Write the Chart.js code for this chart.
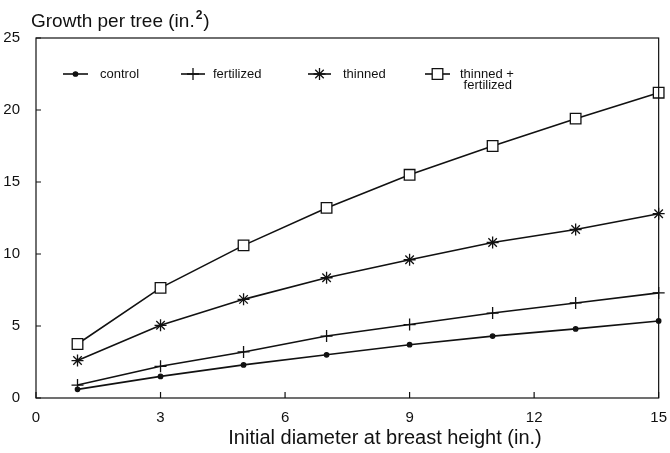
<!DOCTYPE html>
<html>
<head>
<meta charset="utf-8">
<script src="https://cdn.jsdelivr.net/npm/chart.js@4/dist/chart.umd.min.js"></script>
<style>
  body { margin: 0; background: #fff; }
  canvas { display: block; }
</style>
</head>
<body>
<canvas id="growthChart" width="670" height="453"></canvas>
<script>
// diameter classes (in.)
const diameters = [1, 3, 5, 7, 9, 11, 13, 15];
const xTicks = [0, 3, 6, 9, 12, 15];
const yTicks = [0, 5, 10, 15, 20, 25];

// growth per tree (in.^2)
const control = [0.6, 1.5, 2.3, 3.0, 3.7, 4.3, 4.8, 5.35];
const fertilized = [0.9, 2.2, 3.2, 4.3, 5.1, 5.9, 6.6, 7.3];
const thinned = [2.6, 5.05, 6.85, 8.35, 9.6, 10.8, 11.7, 12.8];
const thinnedFertilized = [3.75, 7.65, 10.6, 13.2, 15.5, 17.5, 19.4, 21.2];

const yTitle = ["Growth per tree (in.", "2", ")"];
const xTitle = "Initial diameter at breast height (in.)";
const ink = "#111";
const fontFamily = "'Liberation Sans', Arial, Helvetica, sans-serif";

function toPoints(values) {
    return values.map((v, i) => ({ x: diameters[i], y: v }));
}

function series(label, values, style, radius, fill) {
    return {
        label: label,
        data: toPoints(values),
        borderColor: ink,
        borderWidth: 1.6,
        pointStyle: style,
        pointRadius: radius,
        pointBackgroundColor: fill,
        pointBorderColor: ink,
        pointBorderWidth: 1.3,
        tension: 0,
        clip: false
    };
}

// legend spots inside the plot, as in the figure
const legendSpots = [
    { lineFrom: 63, lineTo: 88, textX: 100, lines: ["control"] },
    { lineFrom: 181, lineTo: 205, textX: 213, lines: ["fertilized"] },
    { lineFrom: 308, lineTo: 331, textX: 343, lines: ["thinned"] },
    { lineFrom: 425, lineTo: 450, textX: 460, lines: ["thinned +", " fertilized"] }
];

const framePlugin = {
    id: "frame",
    afterDraw(chart) {
        const ctx = chart.ctx;
        const a = chart.chartArea;
        const xs = chart.scales.x;
        const ys = chart.scales.y;
        ctx.save();
        ctx.strokeStyle = ink;
        ctx.lineWidth = 1.2;
        ctx.strokeRect(a.left, a.top, a.right - a.left, a.bottom - a.top);

        // tick marks point inward
        ctx.beginPath();
        ys.ticks.forEach(t => {
            const py = ys.getPixelForValue(t.value);
            ctx.moveTo(a.left, py);
            ctx.lineTo(a.left + 5, py);
        });
        xs.ticks.forEach(t => {
            const px = xs.getPixelForValue(t.value);
            ctx.moveTo(px, a.bottom);
            ctx.lineTo(px, a.bottom - 6);
        });
        ctx.stroke();

        // y title with a raised 2
        ctx.fillStyle = ink;
        ctx.textBaseline = "alphabetic";
        ctx.textAlign = "left";
        ctx.font = "19px " + fontFamily;
        let tx = 31;
        ctx.fillText(yTitle[0], tx, 27);
        tx += ctx.measureText(yTitle[0]).width + 1;
        ctx.font = "bold 12px " + fontFamily;
        ctx.fillText(yTitle[1], tx, 19);
        tx += ctx.measureText(yTitle[1]).width + 1;
        ctx.font = "19px " + fontFamily;
        ctx.fillText(yTitle[2], tx, 27);

        // x title
        ctx.textBaseline = "middle";
        ctx.textAlign = "center";
        ctx.font = "20px " + fontFamily;
        ctx.fillText(xTitle, 385, 438);

        // legend
        const legendY = 74;
        chart.data.datasets.forEach((ds, i) => {
            const spot = legendSpots[i];
            ctx.strokeStyle = ink;
            ctx.lineWidth = 1.6;
            ctx.beginPath();
            ctx.moveTo(spot.lineFrom, legendY);
            ctx.lineTo(spot.lineTo, legendY);
            ctx.stroke();
            ctx.fillStyle = ds.pointBackgroundColor;
            ctx.lineWidth = 1.3;
            Chart.helpers.drawPoint(ctx, {
                pointStyle: ds.pointStyle,
                radius: ds.pointRadius,
                rotation: 0,
                borderWidth: 1.3
            }, (spot.lineFrom + spot.lineTo) / 2, legendY);
            ctx.fillStyle = ink;
            ctx.textAlign = "left";
            ctx.font = "13px " + fontFamily;
            spot.lines.forEach((txt, k) => {
                ctx.fillText(txt, spot.textX, legendY + k * 11);
            });
        });
        ctx.restore();
    }
};

new Chart(document.getElementById("growthChart"), {
    type: "line",
    data: {
        datasets: [
            series("control", control, "circle", 2.2, ink),
            series("fertilized", fertilized, "cross", 6, ink),
            series("thinned", thinned, "star", 6, ink),
            series("thinned + fertilized", thinnedFertilized, "rect", 7.5, "#fff")
        ]
    },
    options: {
        responsive: false,
        animation: false,
        events: [],
        layout: {
            padding: { left: 0, right: 10, top: 38, bottom: 0 }
        },
        plugins: {
            legend: { display: false },
            tooltip: { enabled: false }
        },
        scales: {
            x: {
                type: "linear",
                min: 0,
                max: 15,
                afterBuildTicks: s => { s.ticks = xTicks.map(v => ({ value: v })); },
                afterFit: s => { s.height = 55; },
                grid: { display: false },
                border: { display: false },
                ticks: {
                    color: ink,
                    padding: 3,
                    maxRotation: 0,
                    font: { family: fontFamily, size: 15 }
                }
            },
            y: {
                type: "linear",
                min: 0,
                max: 25,
                afterBuildTicks: s => { s.ticks = yTicks.map(v => ({ value: v })); },
                afterFit: s => { s.width = 36; },
                grid: { display: false },
                border: { display: false },
                ticks: {
                    color: ink,
                    padding: 8,
                    font: { family: fontFamily, size: 15 }
                }
            }
        }
    },
    plugins: [framePlugin]
});
</script>
</body>
</html>
